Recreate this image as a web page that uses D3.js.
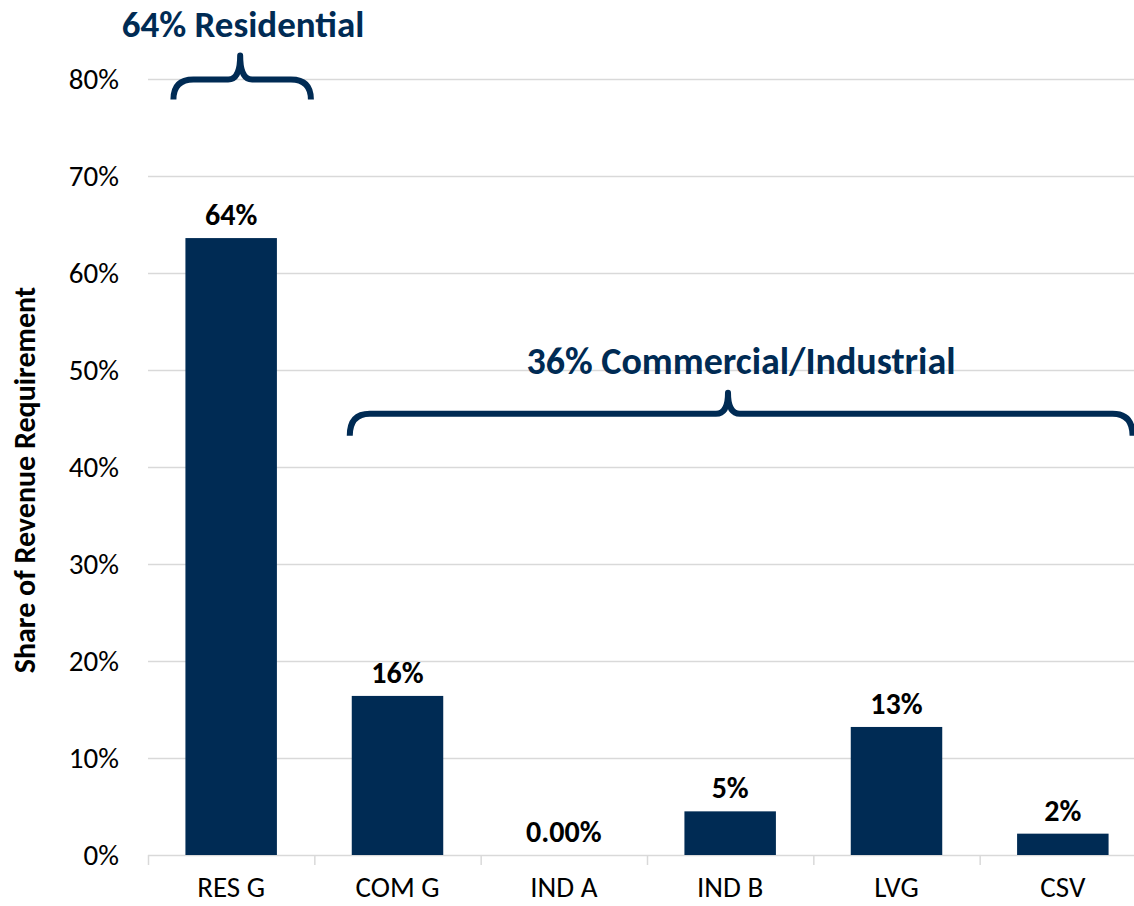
<!DOCTYPE html>
<html>
<head>
<meta charset="utf-8">
<script src="https://cdn.jsdelivr.net/npm/d3@7"></script>
<style>
  body { margin: 0; background: #fff; }
  text { font-family: Carlito, Calibri, Lato, sans-serif; }
</style>
</head>
<body>
<div id="viz"></div>
<script>
const categories = ["RES G", "COM G", "IND A", "IND B", "LVG", "CSV"]
const shares = [0.636, 0.164, 0.0, 0.045, 0.132, 0.022]
const valueLabels = ["64%", "16%", "0.00%", "5%", "13%", "2%"]
const yTicks = [0, 0.1, 0.2, 0.3, 0.4, 0.5, 0.6, 0.7, 0.8]
const groupLabels = ["64% Residential", "36% Commercial/Industrial"]

const width = 1134
const height = 906
const navy = "#002b54"
const grid = "#d9d9d9"

const svg = d3.select("#viz")
  .append("svg")
  .attr("width", width)
  .attr("height", height)

const xScale = d3.scaleBand()
  .domain(categories)
  .range([148, 1146])
  .paddingInner(0.45)
  .paddingOuter(0.225)

const yScale = d3.scaleLinear()
  .domain([0, 0.8])
  .range([855, 79])

// gridlines
svg.append("g")
  .selectAll("line")
  .data(yTicks.slice(1))
  .enter().append("line")
  .attr("x1", 148)
  .attr("x2", width)
  .attr("y1", d => yScale(d) + 0.5)
  .attr("y2", d => yScale(d) + 0.5)
  .attr("stroke", grid)
  .attr("stroke-width", 1.5)

// y axis labels
svg.append("g")
  .selectAll("text")
  .data(yTicks)
  .enter().append("text")
  .attr("x", 119)
  .attr("y", d => yScale(d))
  .attr("dy", "0.35em")
  .attr("text-anchor", "end")
  .attr("font-size", 29)
  .attr("fill", "#000")
  .text(d => Math.round(d * 100) + "%")

// x axis: baseline + boundary ticks
const step = xScale.step()
const xAxisG = svg.append("g")
xAxisG.append("line")
  .attr("x1", 148).attr("x2", width)
  .attr("y1", yScale(0) + 0.5).attr("y2", yScale(0) + 0.5)
  .attr("stroke", grid).attr("stroke-width", 1.5)
xAxisG.selectAll(".tick")
  .data(d3.range(categories.length + 1))
  .enter().append("line")
  .attr("x1", i => 148 + i * step + 0.5)
  .attr("x2", i => 148 + i * step + 0.5)
  .attr("y1", yScale(0))
  .attr("y2", yScale(0) + 10)
  .attr("stroke", grid).attr("stroke-width", 1.5)
xAxisG.selectAll(".cat")
  .data(categories)
  .enter().append("text")
  .attr("x", d => xScale(d) + xScale.bandwidth() / 2)
  .attr("y", 897)
  .attr("text-anchor", "middle")
  .attr("font-size", 29)
  .text(d => d)

// bars
svg.selectAll(".bar")
  .data(shares)
  .enter().append("rect")
  .attr("class", "bar")
  .attr("x", (d, i) => xScale(categories[i]))
  .attr("y", d => yScale(d))
  .attr("width", xScale.bandwidth())
  .attr("height", d => yScale(0) - yScale(d))
  .attr("fill", navy)

// value labels
svg.selectAll(".val")
  .data(shares)
  .enter().append("text")
  .attr("x", (d, i) => xScale(categories[i]) + xScale.bandwidth() / 2)
  .attr("y", d => yScale(d) - 13)
  .attr("text-anchor", "middle")
  .attr("font-size", 30)
  .attr("font-weight", "bold")
  .attr("fill", "#000")
  .text((d, i) => valueLabels[i])

// y axis title
svg.append("text")
  .attr("transform", "translate(35," + 480 + ") rotate(-90)")
  .attr("text-anchor", "middle")
  .attr("font-size", 30)
  .attr("font-weight", "bold")
  .text("Share of Revenue Requirement")

// curly brace helper
function brace(x1, x2, xm, y0, tip, drop) {
  const r = 20, r2 = 12
  return "M" + x1 + "," + (y0 + drop) +
    " Q" + x1 + "," + y0 + " " + (x1 + r) + "," + y0 +
    " L" + (xm - r2) + "," + y0 +
    " Q" + xm + "," + y0 + " " + xm + "," + (y0 - tip) +
    " Q" + xm + "," + y0 + " " + (xm + r2) + "," + y0 +
    " L" + (x2 - r) + "," + y0 +
    " Q" + x2 + "," + y0 + " " + x2 + "," + (y0 + drop)
}

const bw = xScale.bandwidth()
const resX1 = xScale("RES G") - 12
const resX2 = xScale("RES G") + bw + 34
const resTip = xScale("RES G") + bw / 2 + 9
const comX1 = xScale("COM G") - 2
const comX2 = xScale("CSV") + bw + 24
const comTip = 728

svg.append("path")
  .attr("d", brace(resX1, resX2, resTip, yScale(0.7995), 24, 20))
  .attr("fill", "none").attr("stroke", navy).attr("stroke-width", 6)
  .attr("stroke-linejoin", "round")
svg.append("path")
  .attr("d", brace(comX1, comX2, comTip, yScale(0.455), 21, 22))
  .attr("fill", "none").attr("stroke", navy).attr("stroke-width", 6)
  .attr("stroke-linejoin", "round")

// group labels
svg.append("text")
  .attr("x", 243).attr("y", 37)
  .attr("text-anchor", "middle")
  .attr("font-size", 37).attr("font-weight", "bold")
  .attr("fill", navy)
  .text(groupLabels[0])
svg.append("text")
  .attr("x", 741).attr("y", 374)
  .attr("text-anchor", "middle")
  .attr("font-size", 38).attr("font-weight", "bold")
  .attr("fill", navy)
  .text(groupLabels[1])
</script>
</body>
</html>
